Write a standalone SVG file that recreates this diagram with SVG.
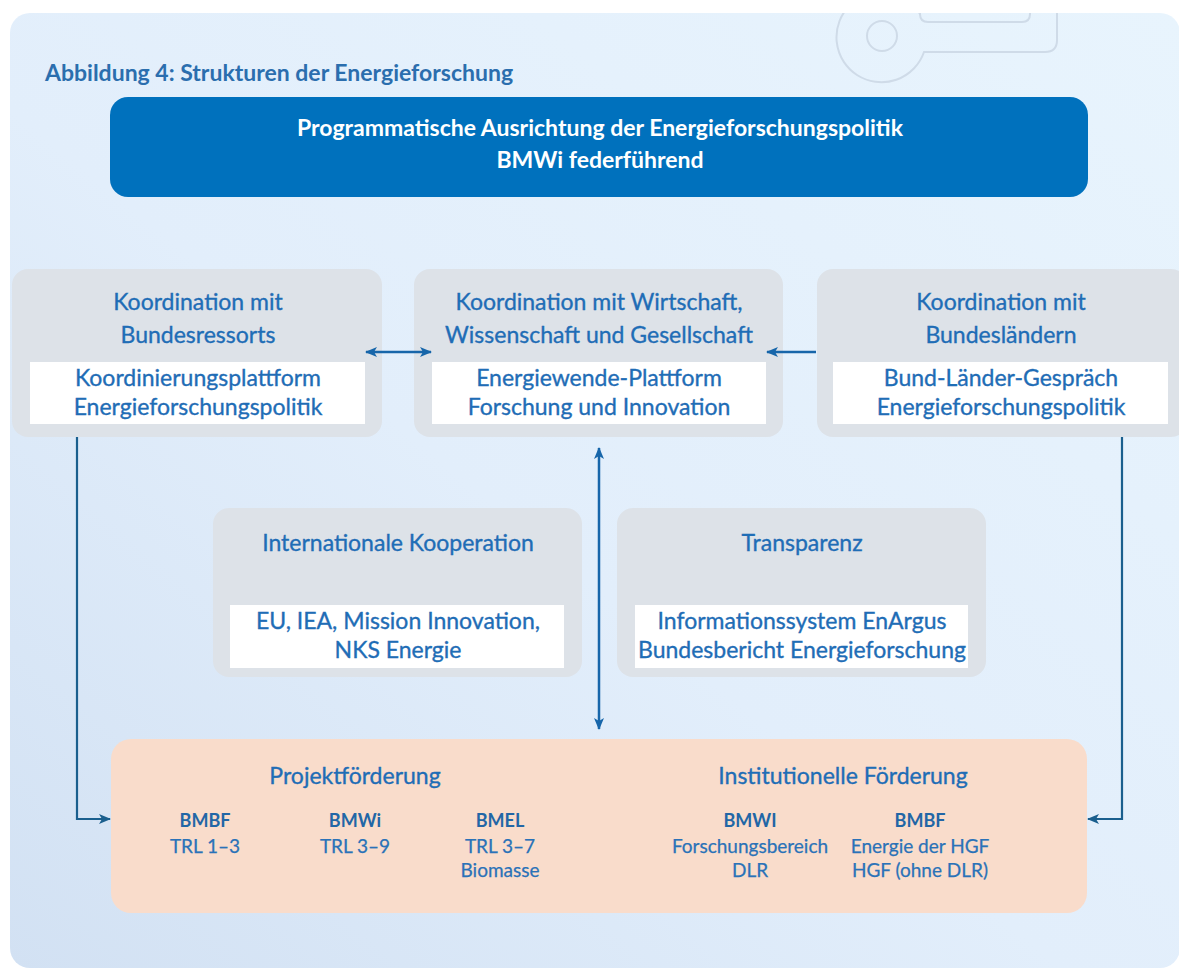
<svg xmlns="http://www.w3.org/2000/svg" width="1179" height="969" viewBox="0 0 1179 969">
  <defs>
    <linearGradient id="panelGrad" x1="1" y1="0" x2="0" y2="1">
      <stop offset="0" stop-color="#e8f4fd"/>
      <stop offset="0.55" stop-color="#e2eefb"/>
      <stop offset="1" stop-color="#d2e1f3"/>
    </linearGradient>
    <clipPath id="panelClip">
      <rect x="10" y="13" width="1170" height="955" rx="20"/>
    </clipPath>
    <marker id="head" viewBox="0 0 12 10" refX="11" refY="5" markerWidth="12" markerHeight="10" markerUnits="userSpaceOnUse" orient="auto-start-reverse">
      <path d="M0,0 L12,5 L0,10 L3,5 Z" fill="#1766aa"/>
    </marker>
    <marker id="headDark" viewBox="0 0 12 10" refX="11" refY="5" markerWidth="12" markerHeight="10" markerUnits="userSpaceOnUse" orient="auto">
      <path d="M0,0 L12,5 L0,10 L3,5 Z" fill="#1a5f8e"/>
    </marker>
  </defs>
  <style>
    .txt { font-family: Lato, "Liberation Sans", sans-serif; fill: #1f6db6; stroke: #1f6db6; stroke-width: 0.35; text-anchor: middle; }
    .h { font-size: 23px; }
    .w { font-size: 23px; }
    .grey { fill: #dde2e8; }
    .white { fill: #ffffff; }
    .lbl { font-family: Lato, "Liberation Sans", sans-serif; fill: #2266a6; text-anchor: middle; font-size: 18px; font-weight: bold; }
    .sub { font-family: Lato, "Liberation Sans", sans-serif; fill: #2a72b8; stroke: #2a72b8; stroke-width: 0.25; text-anchor: middle; font-size: 19px; }
    .conn { stroke: #1766aa; stroke-width: 2.5; fill: none; }
    .connDark { stroke: #1a5f8e; stroke-width: 2.2; fill: none; }
  </style>

  <!-- page background and panel -->
  <rect x="0" y="0" width="1179" height="969" fill="#ffffff"/>
  <rect x="10" y="13" width="1170" height="955" rx="20" fill="url(#panelGrad)"/>

  <!-- decorative key outline in the corner -->
  <g clip-path="url(#panelClip)" stroke="#cfdbe8" stroke-width="2" fill="none">
    <path d="M920,0 L920,14 A45,45 0 1 0 924,52 L1045,52 Q1057,52 1057,40 L1057,0"/>
    <path d="M920,0 L920,14 Q920,22 928,22 L1022,22 Q1030,22 1030,14 L1030,0"/>
    <circle cx="882" cy="36" r="15"/>
  </g>

  <!-- heading -->
  <text x="45" y="81" font-family="Lato, 'Liberation Sans', sans-serif" font-size="23" font-weight="bold" fill="#2b6eae">Abbildung 4: Strukturen der Energieforschung</text>

  <!-- lead box -->
  <g id="lead">
    <rect x="110" y="97" width="978" height="100" rx="18" fill="#0071bd"/>
    <text x="600" y="136" font-family="Lato, 'Liberation Sans', sans-serif" font-size="23" font-weight="bold" fill="#ffffff" text-anchor="middle">Programmatische Ausrichtung der Energieforschungspolitik</text>
    <text x="600" y="168" font-family="Lato, 'Liberation Sans', sans-serif" font-size="23" font-weight="bold" fill="#ffffff" text-anchor="middle">BMWi federführend</text>
  </g>

  <!-- coordination row -->
  <g id="ressorts">
    <rect class="grey" x="12" y="269" width="370" height="168" rx="16"/>
    <rect class="white" x="30" y="362" width="335" height="62"/>
    <text class="txt h" x="198" y="310">Koordination mit</text>
    <text class="txt h" x="198" y="343">Bundesressorts</text>
    <text class="txt w" x="198" y="386">Koordinierungsplattform</text>
    <text class="txt w" x="198" y="415">Energieforschungspolitik</text>
  </g>
  <g id="wirtschaft">
    <rect class="grey" x="414" y="269" width="369" height="168" rx="16"/>
    <rect class="white" x="432" y="362" width="334" height="62"/>
    <text class="txt h" x="599" y="310">Koordination mit Wirtschaft,</text>
    <text class="txt h" x="599" y="343">Wissenschaft und Gesellschaft</text>
    <text class="txt w" x="599" y="386">Energiewende-Plattform</text>
    <text class="txt w" x="599" y="415">Forschung und Innovation</text>
  </g>
  <g id="laender">
    <rect class="grey" x="817" y="269" width="370" height="168" rx="16"/>
    <rect class="white" x="833" y="362" width="335" height="62"/>
    <text class="txt h" x="1001" y="310">Koordination mit</text>
    <text class="txt h" x="1001" y="343">Bundesländern</text>
    <text class="txt w" x="1001" y="386">Bund-Länder-Gespräch</text>
    <text class="txt w" x="1001" y="415">Energieforschungspolitik</text>
  </g>

  <!-- middle row -->
  <g id="international">
    <rect class="grey" x="213" y="508" width="369" height="169" rx="16"/>
    <rect class="white" x="230" y="605" width="334" height="63"/>
    <text class="txt h" x="398" y="551">Internationale Kooperation</text>
    <text class="txt w" x="398" y="629">EU, IEA, Mission Innovation,</text>
    <text class="txt w" x="398" y="658">NKS Energie</text>
  </g>
  <g id="transparenz">
    <rect class="grey" x="617" y="508" width="369" height="169" rx="16"/>
    <rect class="white" x="635" y="605" width="333" height="63"/>
    <text class="txt h" x="802" y="551">Transparenz</text>
    <text class="txt w" x="802" y="629">Informationssystem EnArgus</text>
    <text class="txt w" x="802" y="658">Bundesbericht Energieforschung</text>
  </g>

  <!-- funding box -->
  <g id="foerderung">
    <rect x="111" y="739" width="976" height="174" rx="20" fill="#f9dccb"/>
    <text class="txt" x="355" y="784" font-size="23">Projektförderung</text>
    <text class="txt" x="843" y="784" font-size="23">Institutionelle Förderung</text>
    <text class="lbl" x="205" y="827">BMBF</text>
    <text class="sub" x="205" y="853">TRL 1–3</text>
    <text class="lbl" x="355" y="827">BMWi</text>
    <text class="sub" x="355" y="853">TRL 3–9</text>
    <text class="lbl" x="500" y="827">BMEL</text>
    <text class="sub" x="500" y="853">TRL 3–7</text>
    <text class="sub" x="500" y="877">Biomasse</text>
    <text class="lbl" x="750" y="827">BMWI</text>
    <text class="sub" x="750" y="853">Forschungsbereich</text>
    <text class="sub" x="750" y="877">DLR</text>
    <text class="lbl" x="920" y="827">BMBF</text>
    <text class="sub" x="920" y="853">Energie der HGF</text>
    <text class="sub" x="920" y="877">HGF (ohne DLR)</text>
  </g>

  <!-- connectors -->
  <g id="connectors">
    <line class="conn" x1="366" y1="352" x2="431" y2="352" marker-start="url(#head)" marker-end="url(#head)"/>
    <line class="conn" x1="816" y1="352" x2="767" y2="352" marker-end="url(#head)"/>
    <line class="conn" x1="599" y1="448" x2="599" y2="729" marker-start="url(#head)" marker-end="url(#head)"/>
    <polyline class="connDark" points="77,437 77,819 110,819" marker-end="url(#headDark)"/>
    <polyline class="connDark" points="1122,437 1122,819 1088,819" marker-end="url(#headDark)"/>
  </g>
</svg>
